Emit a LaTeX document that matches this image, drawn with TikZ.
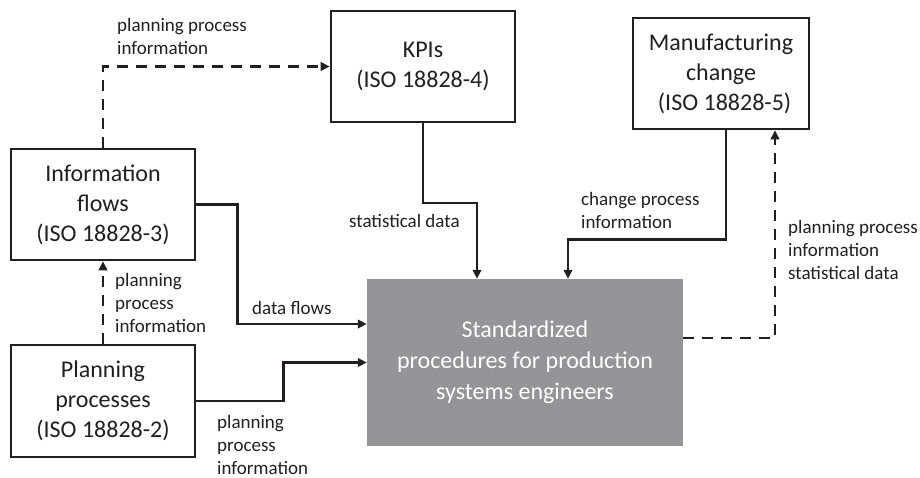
\documentclass[tikz,border=0pt]{standalone}
\usepackage{fontspec}
\setmainfont{Carlito}
\usetikzlibrary{arrows.meta}
\definecolor{boxgrey}{HTML}{939598}
\definecolor{ink}{HTML}{231F20}
\tikzset{
  box/.style={draw=ink, line width=2.6pt, fill=white, align=center, inner sep=0pt,
    font=\fontsize{24}{30}\selectfont, text=ink},
  greybox/.style={fill=boxgrey, align=center, inner sep=0pt,
    font=\fontsize{24}{31}\selectfont, text=white},
  lbl/.style={anchor=west, align=left, inner sep=0pt,
    font=\fontsize{19}{23}\selectfont, text=ink},
  arr/.style={draw=ink, line width=2.6pt, line join=miter, -{Triangle[length=9pt,width=8.5pt]}},
  darr/.style={arr, dash pattern=on 11pt off 8pt}
}
\begin{document}
\begin{tikzpicture}[x=1pt,y=-1pt]
\useasboundingbox (0,0) rectangle (920,477);
% boxes
\node[box, minimum width=184pt, minimum height=111pt] (kpi) at (423,66.5) {KPIs\\(ISO 18828-4)};
\node[box, minimum width=184pt, minimum height=111pt] (info) at (103,204.5) {Information\\flows\\(ISO 18828-3)};
\node[box, minimum width=184pt, minimum height=112pt] (plan) at (103,401) {Planning\\processes\\(ISO 18828-2)};
\node[box, minimum width=176pt, minimum height=111pt] (mfg) at (721,73.5) {Manufacturing\\change\\\hspace*{0.3em}(ISO 18828-5)};
\node[greybox, minimum width=316pt, minimum height=167pt] (grey) at (525,362.5) {Standardized\\procedures for production\\systems engineers};
% connectors
\draw[darr] (info.north) |- (kpi.west);
\draw[darr] (plan.north) -- (info.south);
\draw[arr] (kpi.south) -- ++(0,79.5) -| ([xshift=-48pt]grey.north);
\draw[arr] ([xshift=-1pt]info.east) -- ++(42,0) |- ([yshift=38.5pt]grey.west);
\draw[arr] ([xshift=-1pt]plan.east) -- ++(88,0) |- (grey.west);
\draw[arr] ([xshift=5pt]mfg.south) -- ++(0,109) -| ([xshift=43pt]grey.north);
\draw[darr] ([yshift=24.5pt]grey.east) -| ([xshift=54pt]mfg.south);
% labels
\node[lbl] (l1) at (117,36.5) {planning process\\information};
\node[lbl] (l2) at (349,221) {statistical data};
\node[lbl] (l3) at (252,308) {data flows};
\node[lbl] (l4) at (115,302.5) {planning\\process\\information};
\node[lbl] (l5) at (217,444.5) {planning\\process\\information};
\node[lbl] (l6) at (581,210) {change process\\information};
\node[lbl] (l7) at (788,249.5) {planning process\\information\\statistical data};
\end{tikzpicture}
\end{document}
